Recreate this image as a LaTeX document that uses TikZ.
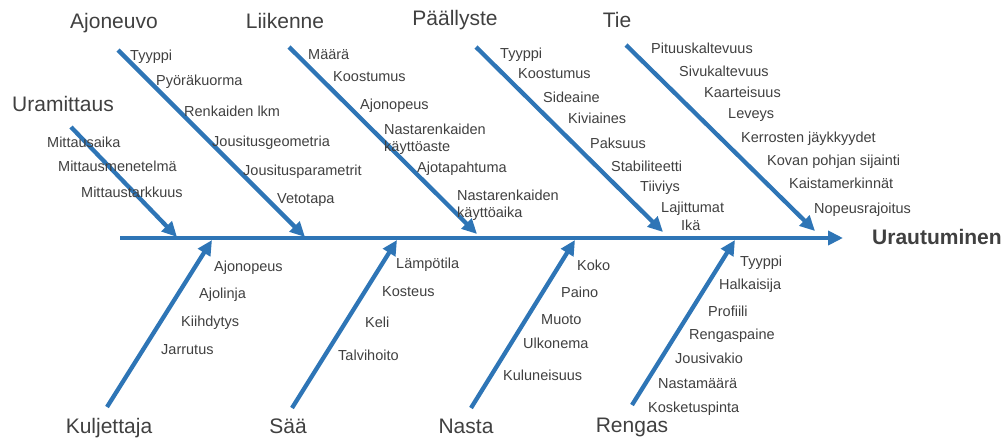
\documentclass[tikz,border=0pt]{standalone}
\usepackage{fontspec}
\setmainfont{Liberation Sans}
\usetikzlibrary{arrows.meta}

\definecolor{bone}{RGB}{46,117,182}
\definecolor{txt}{RGB}{64,64,64}

\tikzset{
	bonearrow/.style={draw=bone, line width=4.3pt, -{Triangle[length=15pt,width=14pt]}},
	cause/.style={inner sep=0, text=txt, font=\fontsize{21}{24}\selectfont, text height=15pt, text depth=4pt},
	effect/.style={inner sep=0, anchor=west, text=txt, font=\fontsize{21}{24}\selectfont\bfseries},
	item/.style={inner sep=0, anchor=west, text=txt, font=\fontsize{14.5}{17}\selectfont, text height=12.5pt, text depth=1.5pt},
	item2/.style={inner sep=0, anchor=west, text=txt, font=\fontsize{14.5}{17}\selectfont, align=left, yshift=-2pt}
}

\begin{document}
\begin{tikzpicture}[x=1pt, y=-1pt]
	\useasboundingbox (0,0) rectangle (1008,441);

	% spine
	\coordinate (spine-s) at (120,238);
	\coordinate (spine-e) at (843,238);
	\draw [bonearrow] (spine-s) -- (spine-e);
	\node [effect] (ura) at (872,237) {Urautuminen};

	% bones, top
	\coordinate (uram-s) at (71,127);
	\coordinate (uram-e) at (177,237);
	\coordinate (ajon-s) at (118,50);
	\coordinate (ajon-e) at (305,237);
	\coordinate (liik-s) at (289,47);
	\coordinate (liik-e) at (477,234);
	\coordinate (paal-s) at (476,47);
	\coordinate (paal-e) at (663,232);
	\coordinate (tie-s) at (626,45);
	\coordinate (tie-e) at (815,231);
	\draw [bonearrow] (uram-s) -- (uram-e);
	\draw [bonearrow] (ajon-s) -- (ajon-e);
	\draw [bonearrow] (liik-s) -- (liik-e);
	\draw [bonearrow] (paal-s) -- (paal-e);
	\draw [bonearrow] (tie-s) -- (tie-e);

	% bones, bottom
	\coordinate (kulj-s) at (107,407);
	\coordinate (kulj-e) at (212,240);
	\coordinate (saa-s) at (292,408);
	\coordinate (saa-e) at (397,240);
	\coordinate (nasta-s) at (471,408);
	\coordinate (nasta-e) at (575,240);
	\coordinate (reng-s) at (632,405);
	\coordinate (reng-e) at (735,240);
	\draw [bonearrow] (kulj-s) -- (kulj-e);
	\draw [bonearrow] (saa-s) -- (saa-e);
	\draw [bonearrow] (nasta-s) -- (nasta-e);
	\draw [bonearrow] (reng-s) -- (reng-e);

	% causes
	\node [cause] (uram) at (63,106) {Uramittaus};
	\node [cause] (ajon) at (114,23) {Ajoneuvo};
	\node [cause] (liik) at (285,23) {Liikenne};
	\node [cause] (paal) at (455,20) {Päällyste};
	\node [cause] (tie) at (617,22) {Tie};
	\node [cause] (kulj) at (109,428) {Kuljettaja};
	\node [cause] (saa) at (288,428) {Sää};
	\node [cause] (nasta) at (466,428) {Nasta};
	\node [cause] (reng) at (632,427) {Rengas};

	% Uramittaus
	\node [item] (uram1) at (47,142) {Mittausaika};
	\node [item] (uram2) at (58,166) {Mittausmenetelmä};
	\node [item] (uram3) at (81,192) {Mittaustarkkuus};
	% Ajoneuvo
	\node [item] (ajon1) at (130,55) {Tyyppi};
	\node [item] (ajon2) at (156,80) {Pyöräkuorma};
	\node [item] (ajon3) at (184,111) {Renkaiden lkm};
	\node [item] (ajon4) at (212,141) {Jousitusgeometria};
	\node [item] (ajon5) at (243,170) {Jousitusparametrit};
	\node [item] (ajon6) at (277,198) {Vetotapa};
	% Liikenne
	\node [item] (liik1) at (308,54) {Määrä};
	\node [item] (liik2) at (333,76) {Koostumus};
	\node [item] (liik3) at (360,104) {Ajonopeus};
	\node [item2] (liik4) at (384,137) {Nastarenkaiden\\käyttöaste};
	\node [item] (liik5) at (417,167) {Ajotapahtuma};
	\node [item2] (liik6) at (457,203) {Nastarenkaiden\\käyttöaika};
	% Päällyste
	\node [item] (paal1) at (500,53) {Tyyppi};
	\node [item] (paal2) at (518,73) {Koostumus};
	\node [item] (paal3) at (543,97) {Sideaine};
	\node [item] (paal4) at (568,118) {Kiviaines};
	\node [item] (paal5) at (590,143) {Paksuus};
	\node [item] (paal6) at (611,166) {Stabiliteetti};
	\node [item] (paal7) at (640,186) {Tiiviys};
	\node [item] (paal8) at (661,207) {Lajittumat};
	\node [item] (paal9) at (681,225) {Ikä};
	% Tie
	\node [item] (tie1) at (651,48) {Pituuskaltevuus};
	\node [item] (tie2) at (679,71) {Sivukaltevuus};
	\node [item] (tie3) at (704,92) {Kaarteisuus};
	\node [item] (tie4) at (728,113) {Leveys};
	\node [item] (tie5) at (741,137) {Kerrosten jäykkyydet};
	\node [item] (tie6) at (767,160) {Kovan pohjan sijainti};
	\node [item] (tie7) at (789,183) {Kaistamerkinnät};
	\node [item] (tie8) at (814,208) {Nopeusrajoitus};
	% Kuljettaja
	\node [item] (kulj1) at (214,266) {Ajonopeus};
	\node [item] (kulj2) at (199,293) {Ajolinja};
	\node [item] (kulj3) at (181,321) {Kiihdytys};
	\node [item] (kulj4) at (161,349) {Jarrutus};
	% Sää
	\node [item] (saa1) at (396,263) {Lämpötila};
	\node [item] (saa2) at (382,291) {Kosteus};
	\node [item] (saa3) at (365,322) {Keli};
	\node [item] (saa4) at (338,355) {Talvihoito};
	% Nasta
	\node [item] (nasta1) at (577,265) {Koko};
	\node [item] (nasta2) at (561,292) {Paino};
	\node [item] (nasta3) at (541,319) {Muoto};
	\node [item] (nasta4) at (523,343) {Ulkonema};
	\node [item] (nasta5) at (503,375) {Kuluneisuus};
	% Rengas
	\node [item] (reng1) at (740,261) {Tyyppi};
	\node [item] (reng2) at (719,284) {Halkaisija};
	\node [item] (reng3) at (708,311) {Profiili};
	\node [item] (reng4) at (689,334) {Rengaspaine};
	\node [item] (reng5) at (675,358) {Jousivakio};
	\node [item] (reng6) at (658,383) {Nastamäärä};
	\node [item] (reng7) at (648,407) {Kosketuspinta};
\end{tikzpicture}
\end{document}
